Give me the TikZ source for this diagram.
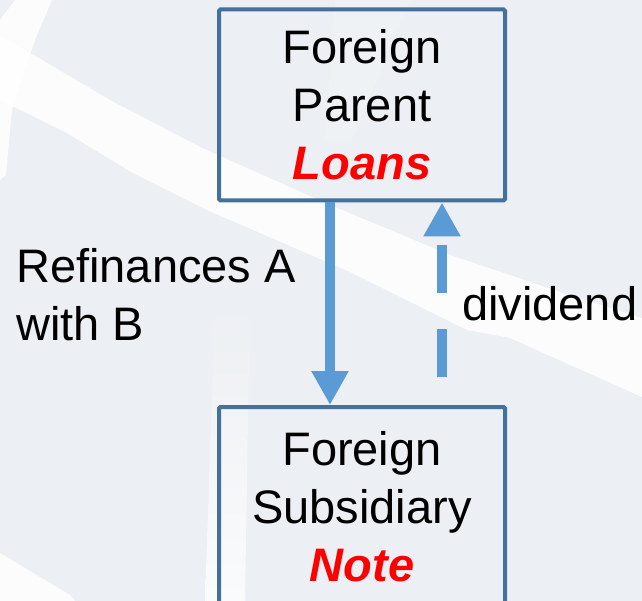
\documentclass[tikz,border=0pt]{standalone}
\usepackage{fontspec}
\setmainfont{Liberation Sans}
\usetikzlibrary{arrows.meta}
\definecolor{bgc}{RGB}{236,239,243}
\definecolor{boxc}{RGB}{65,113,156}
\definecolor{arrc}{RGB}{91,155,213}
\definecolor{redc}{RGB}{255,0,0}
\begin{document}
\begin{tikzpicture}[x=1pt,y=-1pt,
  box/.style={draw=boxc, line width=4pt, rounded corners=1.5pt, minimum width=286pt, minimum height=191pt,
    inner sep=0pt, align=center, font=\fontsize{47}{58}\selectfont},
  lbl/.style={inner sep=0pt, align=left, font=\fontsize{47}{58}\selectfont},
  arr/.style={draw=arrc, line width=10pt, -{Triangle[length=34pt,width=35pt]}},
  streak/.style={fill=white}]
\useasboundingbox (0,0) rectangle (642,601);
\clip (0,0) rectangle (642,601);
\fill[bgc] (0,0) rectangle (642,601);
% background streaks
\fill[streak, opacity=0.85] (0,36) -- (37,57) -- (110,100) -- (200,147) -- (330,205) -- (450,255) -- (560,292) -- (642,318)
  -- (642,397) -- (510,338) -- (467,330) -- (350,272) -- (207,210) -- (133,173) -- (67,133) -- (0,100) -- cycle;
\fill[streak, opacity=0.85] (15,0) -- (52,0) -- (35,40) -- (12,110) -- (6,175) -- (0,180) -- (0,20) -- cycle;
\fill[streak, opacity=0.85] (0,553) -- (70,595) -- (75,601) -- (0,601) -- cycle;
\shade[top color=bgc, bottom color=white!75!bgc] (215,300) -- (250,300) -- (245,601) -- (205,601) -- cycle;
\fill[streak, opacity=0.2] (335,0) -- (410,0) -- (352,140) -- (325,140) -- cycle;
% boxes
\node[box] (parent) at (362,105) {Foreign\\Parent\\\textcolor{redc}{\textbf{\textit{Loans}}}};
\node[box, minimum height=199pt] (sub) at (362,506.5) {Foreign\\Subsidiary\\\textcolor{redc}{\textbf{\textit{Note}}}};
% labels
\node[lbl, anchor=north west] (refi) at (16,248.3) {Refinances A\\with B};
\node[lbl, anchor=base west] (div) at (462,320) {dividend};
% connectors
\draw[arr] ([xshift=-32pt]parent.south) -- ([xshift=-32pt]sub.north);
\coordinate (dstart) at (442,377);
\draw[arr, dash pattern=on 48pt off 36pt] (dstart) -- ([xshift=80pt]parent.south);
\end{tikzpicture}
\end{document}
